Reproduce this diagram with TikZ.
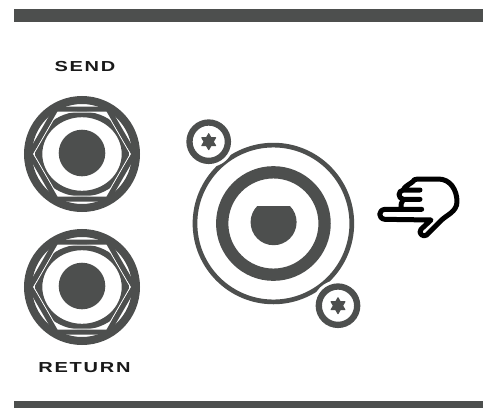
\documentclass[tikz,border=0pt]{standalone}
\usepackage{fontspec}
\setmainfont{Liberation Sans}
\definecolor{dk}{HTML}{4D4F4E}
\tikzset{x=1pt,y=-1pt,
 ring/.style={draw=dk,line width=#1,fill=none},
 lab/.style={font=\fontsize{14.5}{15}\selectfont\bfseries,text=black!90,inner sep=0pt}}
\newcommand{\jack}[3]{%
 \begin{scope}[shift={(#1,#2)}]
  \draw[ring=8pt] (0,0) circle[radius=54];
  \fill[dk,even odd rule] (0,0) ellipse[x radius=47,y radius=42.5] (0,0) ellipse[x radius=39.7,y radius=36.8];
  \draw[white,line width=1pt] (-48.5,0)--(-24.25,-42)--(24.25,-42)--(48.5,0)--(24.25,42)--(-24.25,42)--cycle;
  \draw[dk,line width=5pt,line join=miter] (-52,0)--(-26,-45)--(26,-45)--(52,0)--(26,45)--(-26,45)--cycle;
  \fill[dk] (0,#3) circle[radius=23.3];
 \end{scope}}
\newcommand{\screw}[2]{%
 \begin{scope}[shift={(#1,#2)}]
  \fill[white] (0,0) circle[radius=25.5];
  \draw[ring=6.3pt] (0,0) circle[radius=19.2];
  \draw[dk,fill=dk,line width=1pt,line join=round]
   (90:8)--(120:4.6)--(150:8)--(180:4.6)--(210:8)--(240:4.6)--(270:8)--(300:4.6)--(330:8)--(0:4.6)--(30:8)--(60:4.6)--cycle;
 \end{scope}}
\begin{document}
\begin{tikzpicture}
\useasboundingbox (0,0) rectangle (483,408);
\fill[white] (0,0) rectangle (483,408);
\fill[dk] (14,9) rectangle (483,22);
\fill[dk] (14,401) rectangle (483,408);
\node[lab] (send) at (85,67) {\addfontfeature{LetterSpace=12,FakeStretch=1.38}SEND};
\node[lab] (ret) at (84.5,367.5) {\addfontfeature{LetterSpace=12,FakeStretch=1.38}RETURN};
\jack{82}{154}{-1}
\jack{82}{287}{-1}
\draw[ring=4.7pt] (273.4,223.5) circle[radius=78.4];
\draw[ring=12.3pt] (273.4,223.5) circle[radius=51.2];
\begin{scope}
 \clip (240,206) rectangle (310,250);
 \fill[dk] (273.6,222.2) circle[radius=23];
\end{scope}
\screw{208.7}{141.7}
\screw{338}{305.7}
\begin{scope}[shift={(375,170)},x=.3333pt,y=-.3333pt]
\draw[black,line width=5pt,line cap=round,line join=round]
 (112,36) .. controls (116,30) and (120,27) .. (128,27) -- (190,27)
 .. controls (226,27) and (246,60) .. (246,95)
 .. controls (246,125) and (215,135) .. (200,150) -- (155,195)
 .. controls (145,203) and (128,190) .. (138,178) -- (168,150) -- (30,148)
 .. controls (9,146) and (9,120) .. (30,118) -- (140,118)
 (78,118) .. controls (78,105) and (78,95) .. (85,88)
 (135,88) -- (85,88) .. controls (68,85) and (68,62) .. (85,60) -- (135,60)
 (85,60) .. controls (88,50) and (100,45) .. (112,36);
\end{scope}
\end{tikzpicture}
\end{document}
